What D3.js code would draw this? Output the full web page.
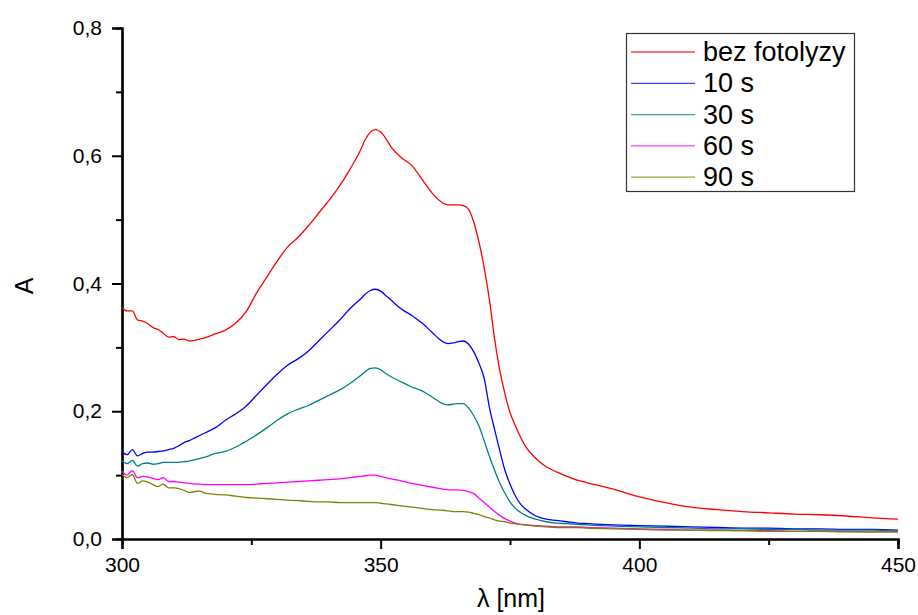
<!DOCTYPE html>
<html>
<head>
<meta charset="utf-8">
<script src="https://cdn.jsdelivr.net/npm/d3@7"></script>
<style>
  body { margin: 0; background: #fff; }
  text { font-family: "Liberation Sans", Arial, sans-serif; }
</style>
</head>
<body>
<div class="canvas"></div>
<script>
// wavelengths (nm) shared by all series
const wavelengths = [300, 301, 302, 303, 304, 305, 306, 307, 308, 309, 310, 311, 312, 313, 314, 315, 316, 318, 320, 322, 324, 326, 328, 330, 332, 334, 336, 338, 340, 342, 344, 346, 347, 348, 349, 350, 351, 352, 354, 356, 358, 360, 362, 363, 364, 365, 366, 367, 368, 369, 370, 371, 372, 373, 374, 375, 376, 377, 378, 380, 382, 384, 386, 388, 390, 395, 400, 405, 410, 415, 420, 425, 430, 435, 440, 445, 450];

const bezFotolyzy = [0.362, 0.357, 0.357, 0.343, 0.341, 0.337, 0.331, 0.328, 0.322, 0.316, 0.317, 0.312, 0.313, 0.310, 0.311, 0.313, 0.315, 0.321, 0.327, 0.338, 0.356, 0.385, 0.410, 0.435, 0.457, 0.472, 0.490, 0.510, 0.530, 0.552, 0.578, 0.607, 0.625, 0.637, 0.641, 0.637, 0.627, 0.614, 0.597, 0.585, 0.563, 0.541, 0.526, 0.523, 0.523, 0.523, 0.522, 0.516, 0.496, 0.465, 0.425, 0.376, 0.315, 0.265, 0.228, 0.198, 0.178, 0.160, 0.145, 0.126, 0.113, 0.105, 0.098, 0.092, 0.088, 0.078, 0.066, 0.057, 0.050, 0.046, 0.043, 0.041, 0.039, 0.038, 0.036, 0.033, 0.031];

const s10 = [0.136, 0.132, 0.140, 0.130, 0.134, 0.136, 0.136, 0.137, 0.138, 0.140, 0.142, 0.146, 0.151, 0.154, 0.158, 0.162, 0.166, 0.174, 0.186, 0.196, 0.208, 0.225, 0.242, 0.258, 0.272, 0.282, 0.294, 0.310, 0.326, 0.342, 0.360, 0.375, 0.383, 0.389, 0.391, 0.388, 0.381, 0.374, 0.360, 0.350, 0.338, 0.323, 0.309, 0.306, 0.307, 0.309, 0.310, 0.305, 0.293, 0.275, 0.252, 0.207, 0.172, 0.139, 0.108, 0.086, 0.068, 0.055, 0.047, 0.036, 0.031, 0.029, 0.027, 0.025, 0.024, 0.022, 0.021, 0.020, 0.019, 0.018, 0.017, 0.017, 0.016, 0.016, 0.015, 0.015, 0.014];

const s30 = [0.122, 0.118, 0.123, 0.114, 0.118, 0.119, 0.117, 0.118, 0.120, 0.120, 0.120, 0.120, 0.121, 0.122, 0.124, 0.126, 0.128, 0.134, 0.137, 0.144, 0.153, 0.163, 0.174, 0.186, 0.196, 0.203, 0.209, 0.217, 0.225, 0.233, 0.243, 0.255, 0.262, 0.267, 0.268, 0.265, 0.259, 0.254, 0.246, 0.238, 0.232, 0.222, 0.212, 0.210, 0.211, 0.212, 0.212, 0.205, 0.193, 0.177, 0.154, 0.130, 0.108, 0.088, 0.072, 0.058, 0.048, 0.042, 0.037, 0.031, 0.027, 0.025, 0.024, 0.023, 0.022, 0.020, 0.019, 0.018, 0.017, 0.016, 0.016, 0.015, 0.015, 0.014, 0.014, 0.014, 0.013];

const s60 = [0.106, 0.100, 0.107, 0.096, 0.098, 0.097, 0.095, 0.093, 0.096, 0.090, 0.090, 0.089, 0.088, 0.087, 0.086, 0.086, 0.085, 0.085, 0.085, 0.085, 0.085, 0.086, 0.087, 0.088, 0.089, 0.090, 0.091, 0.092, 0.093, 0.094, 0.096, 0.098, 0.099, 0.100, 0.100, 0.098, 0.096, 0.094, 0.091, 0.087, 0.084, 0.081, 0.078, 0.077, 0.077, 0.077, 0.076, 0.074, 0.071, 0.064, 0.057, 0.050, 0.043, 0.037, 0.032, 0.028, 0.025, 0.023, 0.022, 0.021, 0.020, 0.019, 0.019, 0.019, 0.018, 0.017, 0.016, 0.015, 0.014, 0.014, 0.013, 0.013, 0.012, 0.012, 0.012, 0.011, 0.011];

const s90 = [0.101, 0.096, 0.101, 0.087, 0.091, 0.089, 0.085, 0.082, 0.086, 0.080, 0.080, 0.079, 0.076, 0.073, 0.074, 0.075, 0.072, 0.070, 0.069, 0.067, 0.065, 0.064, 0.063, 0.062, 0.061, 0.060, 0.059, 0.058, 0.058, 0.057, 0.057, 0.057, 0.057, 0.057, 0.057, 0.056, 0.055, 0.054, 0.052, 0.050, 0.048, 0.046, 0.045, 0.044, 0.043, 0.043, 0.043, 0.042, 0.040, 0.038, 0.035, 0.033, 0.030, 0.028, 0.027, 0.025, 0.024, 0.023, 0.022, 0.020, 0.019, 0.018, 0.018, 0.018, 0.017, 0.016, 0.015, 0.014, 0.014, 0.013, 0.013, 0.012, 0.012, 0.012, 0.011, 0.011, 0.011];

const seriesNames = ['bez fotolyzy', '10 s', '30 s', '60 s', '90 s'];
const seriesValues = [bezFotolyzy, s10, s30, s60, s90];
const seriesColours = ['#ff0000', '#0000ff', '#008080', '#ff00ff', '#808000'];

const xTicks = [300, 350, 400, 450];
const yTicks = [0, 0.2, 0.4, 0.6, 0.8];

const dims = { width: 918, height: 615 };
const plot = { left: 122, right: 898, top: 28, bottom: 539 };

const svg = d3.select('.canvas').append('svg')
  .attr('width', dims.width)
  .attr('height', dims.height);

const x = d3.scaleLinear().domain([300, 450]).range([plot.left, plot.right]);
const y = d3.scaleLinear().domain([0, 0.8]).range([plot.bottom, plot.top]);

// comma as decimal separator
const fmt = d3.formatLocale({ decimal: ',', thousands: ' ', grouping: [3], currency: ['', ''] }).format('.1f');

// minor ticks first, majors drawn on top
const xMinor = d3.axisBottom(x).tickValues(d3.range(325, 450, 50)).tickSize(6).tickFormat('');
const yMinor = d3.axisLeft(y).tickValues(d3.range(0.1, 0.8, 0.2)).tickSize(6).tickFormat('');

svg.append('g').attr('transform', `translate(0, ${plot.bottom})`).call(xMinor);
svg.append('g').attr('transform', `translate(${plot.left}, 0)`).call(yMinor);

const xAxis = d3.axisBottom(x).tickValues(xTicks).tickSize(10).tickPadding(8).tickFormat(d3.format('d'));
const yAxis = d3.axisLeft(y).tickValues(yTicks).tickSize(10).tickPadding(10).tickFormat(fmt);

const gx = svg.append('g').attr('transform', `translate(0, ${plot.bottom})`).call(xAxis);
const gy = svg.append('g').attr('transform', `translate(${plot.left}, 0)`).call(yAxis);

svg.selectAll('.domain').attr('stroke', '#000').attr('stroke-width', 2.2);
svg.selectAll('.tick line').attr('stroke', '#000').attr('stroke-width', 2);
svg.selectAll('.tick text').attr('font-size', 21).attr('fill', '#000')
  .attr('font-family', '"Liberation Sans", Arial, sans-serif');

// lines
const line = d3.line()
  .x((d, i) => x(wavelengths[i]))
  .y(d => y(d))
  .curve(d3.curveMonotoneX);

svg.append('g').selectAll('path')
  .data(seriesValues)
  .enter().append('path')
  .attr('d', line)
  .attr('fill', 'none')
  .attr('stroke', (d, i) => seriesColours[i])
  .attr('stroke-width', 1.3);

// axis titles
svg.append('text')
  .attr('transform', 'translate(33, 286) rotate(-90)')
  .attr('text-anchor', 'middle')
  .attr('font-size', 25)
  .text('A');

svg.append('text')
  .attr('x', 511).attr('y', 607)
  .attr('text-anchor', 'middle')
  .attr('font-size', 25)
  .text('λ [nm]');

// legend
const legend = svg.append('g');
legend.append('rect')
  .attr('x', 626.5).attr('y', 33.5)
  .attr('width', 228).attr('height', 158)
  .attr('fill', '#fff')
  .attr('stroke', '#333')
  .attr('stroke-width', 1.2);

const rows = legend.selectAll('.row')
  .data(seriesNames)
  .enter().append('g')
  .attr('class', 'row')
  .attr('transform', (d, i) => `translate(0, ${52 + i * 31.3})`);

rows.append('line')
  .attr('x1', 631).attr('x2', 695)
  .attr('stroke', (d, i) => seriesColours[i])
  .attr('stroke-opacity', 0.75)
  .attr('stroke-width', 1.3);

rows.append('text')
  .attr('x', 703).attr('y', 9)
  .attr('font-size', 27)
  .text(d => d);
</script>
</body>
</html>
